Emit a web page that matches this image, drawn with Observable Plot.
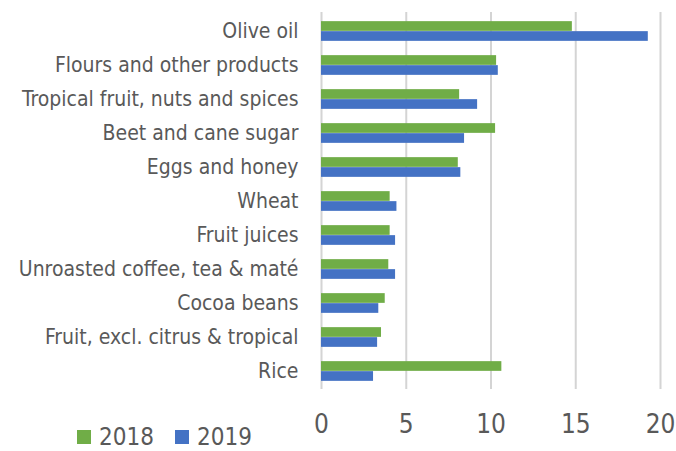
<!DOCTYPE html>
<html>
<head>
<meta charset="utf-8">
<script src="https://cdn.jsdelivr.net/npm/d3@7"></script>
<script src="https://cdn.jsdelivr.net/npm/@observablehq/plot@0.6"></script>
<style>
  body { margin: 0; background: #fff; }
  #chart { position: relative; width: 676px; }
  #legend { height: 28px; position: relative; font-family: "DejaVu Sans Condensed", "Liberation Sans Narrow", sans-serif; font-size: 24px; color: #595959; line-height: 28px; }
  #legend span.item { position: absolute; top: 0; display: inline-flex; align-items: center; height: 28px; }
  #legend span.sw { display: inline-block; width: 14px; height: 14px; margin-right: 8px; }
</style>
</head>
<body>
<div id="chart"></div>
<script>
const categories = [
  "Olive oil",
  "Flours and other products",
  "Tropical fruit, nuts and spices",
  "Beet and cane sugar",
  "Eggs and honey",
  "Wheat",
  "Fruit juices",
  "Unroasted coffee, tea & maté",
  "Cocoa beans",
  "Fruit, excl. citrus & tropical",
  "Rice"
];
const values2018 = [14.8, 10.33, 8.15, 10.27, 8.07, 4.05, 4.05, 3.97, 3.76, 3.54, 10.64];
const values2019 = [19.28, 10.43, 9.21, 8.44, 8.22, 4.45, 4.37, 4.37, 3.38, 3.31, 3.07];
const seriesNames = ["2018", "2019"];
const seriesColors = ["#70AD47", "#4472C4"];
const xTicks = [0, 5, 10, 15, 20];

const rows2018 = categories.map((c, i) => ({category: c, value: values2018[i]}));
const rows2019 = categories.map((c, i) => ({category: c, value: values2019[i]}));

const font = "'DejaVu Sans Condensed', 'Liberation Sans Narrow', sans-serif";

const chart = Plot.plot({
  width: 676,
  height: 423,
  marginLeft: 321,
  marginRight: 16,
  marginTop: 12,
  marginBottom: 34,
  style: {fontFamily: font, background: "#fff", overflow: "visible"},
  x: {domain: [0, 20], ticks: xTicks},
  y: {domain: categories, padding: 0},
  marks: [
    Plot.ruleX(xTicks, {stroke: "#d4d4d4", strokeWidth: 2}),
    Plot.barX(rows2018, {x: "value", y: "category", fill: seriesColors[0], insetTop: 7.15, insetBottom: 17.15}),
    Plot.barX(rows2019, {x: "value", y: "category", fill: seriesColors[1], insetTop: 17.15, insetBottom: 7.15}),
    Plot.axisY({tickSize: 0, tickPadding: 23, fontSize: 21, fill: "#595959", label: null}),
    Plot.axisX(xTicks, {tickSize: 0, tickPadding: 25, fontSize: 26, fill: "#595959", label: null})
  ]
});
document.getElementById("chart").appendChild(chart);

const legend = document.createElement("div");
legend.id = "legend";
const positions = [77, 175];
seriesNames.forEach((name, i) => {
  const item = document.createElement("span");
  item.className = "item";
  item.style.left = positions[i] + "px";
  const sw = document.createElement("span");
  sw.className = "sw";
  sw.style.background = seriesColors[i];
  item.appendChild(sw);
  item.appendChild(document.createTextNode(name));
  legend.appendChild(item);
});
document.getElementById("chart").appendChild(legend);
</script>
</body>
</html>
